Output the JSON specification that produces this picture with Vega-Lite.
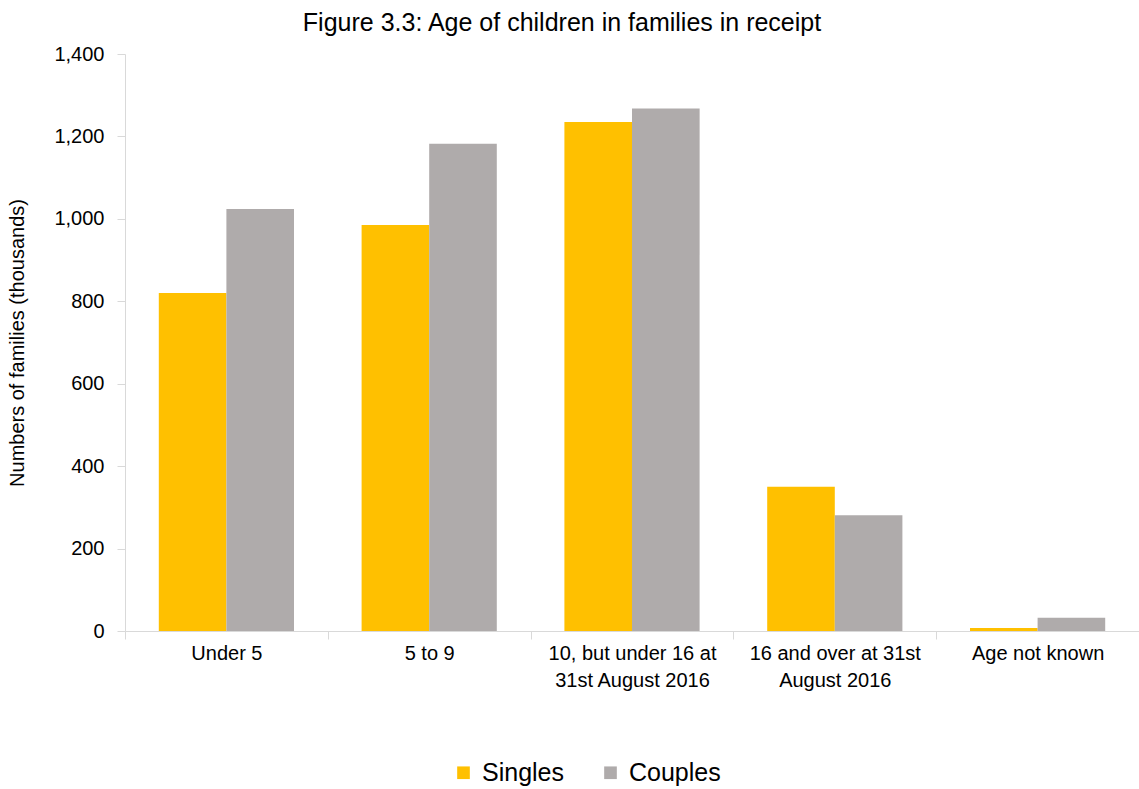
{
  "$schema": "https://vega.github.io/schema/vega-lite/v6.json",
  "autosize": "none",
  "padding": {"left": 125, "top": 54, "right": 0, "bottom": 158},
  "width": 1014,
  "height": 577,
  "background": "white",
  "title": {
    "text": "Figure 3.3: Age of children in families in receipt",
    "font": "Liberation Sans",
    "fontSize": 25,
    "fontWeight": "normal",
    "color": "#000000",
    "anchor": "middle",
    "dx": -70,
    "offset": 8
  },
  "data": {
    "values": [
      {"age": "Under 5", "type": "Singles", "value": 820},
      {"age": "Under 5", "type": "Couples", "value": 1024},
      {"age": "5 to 9", "type": "Singles", "value": 985},
      {"age": "5 to 9", "type": "Couples", "value": 1182},
      {"age": "10, but under 16 at 31st August 2016", "type": "Singles", "value": 1235},
      {"age": "10, but under 16 at 31st August 2016", "type": "Couples", "value": 1268},
      {"age": "16 and over at 31st August 2016", "type": "Singles", "value": 350},
      {"age": "16 and over at 31st August 2016", "type": "Couples", "value": 281},
      {"age": "Age not known", "type": "Singles", "value": 7},
      {"age": "Age not known", "type": "Couples", "value": 32}
    ]
  },
  "mark": {"type": "bar"},
  "encoding": {
    "x": {
      "field": "age",
      "type": "nominal",
      "sort": null,
      "scale": {"paddingInner": 0, "paddingOuter": 0},
      "axis": {
        "title": null,
        "labelAngle": 0,
        "tickBand": "extent",
        "labelFont": "Liberation Sans",
        "labelFontSize": 20,
        "labelColor": "#000000",
        "labelPadding": 4,
        "labelLineHeight": 27,
        "domainColor": "#D9D9D9",
        "tickColor": "#D9D9D9",
        "tickSize": 8,
        "labelExpr": "datum.value == '10, but under 16 at 31st August 2016' ? ['10, but under 16 at', '31st August 2016'] : datum.value == '16 and over at 31st August 2016' ? ['16 and over at 31st', 'August 2016'] : datum.value"
      }
    },
    "xOffset": {
      "field": "type",
      "type": "nominal",
      "sort": ["Singles", "Couples"],
      "scale": {"paddingInner": 0, "paddingOuter": 0.5}
    },
    "y": {
      "field": "value",
      "type": "quantitative",
      "scale": {"domain": [0, 1400], "nice": false},
      "axis": {
        "title": "Numbers of families (thousands)",
        "titleFont": "Liberation Sans",
        "titleFontSize": 20,
        "titleFontWeight": "normal",
        "titleColor": "#000000",
        "titlePadding": 26,
        "values": [0, 200, 400, 600, 800, 1000, 1200, 1400],
        "format": ",d",
        "grid": false,
        "labelFont": "Liberation Sans",
        "labelFontSize": 20,
        "labelColor": "#000000",
        "labelPadding": 13,
        "domainColor": "#D9D9D9",
        "tickColor": "#D9D9D9",
        "tickSize": 8
      }
    },
    "color": {
      "field": "type",
      "type": "nominal",
      "sort": ["Singles", "Couples"],
      "scale": {"domain": ["Singles", "Couples"], "range": ["#FFC000", "#AFABAB"]},
      "legend": {
        "title": null,
        "orient": "none",
        "legendX": 326,
        "legendY": 706,
        "direction": "horizontal",
        "symbolType": "square",
        "symbolSize": 160,
        "symbolStrokeWidth": 0,
        "labelFont": "Liberation Sans",
        "labelFontSize": 25,
        "labelColor": "#000000",
        "labelOffset": 6,
        "columnPadding": 34
      }
    }
  },
  "config": {"view": {"stroke": null}}
}
